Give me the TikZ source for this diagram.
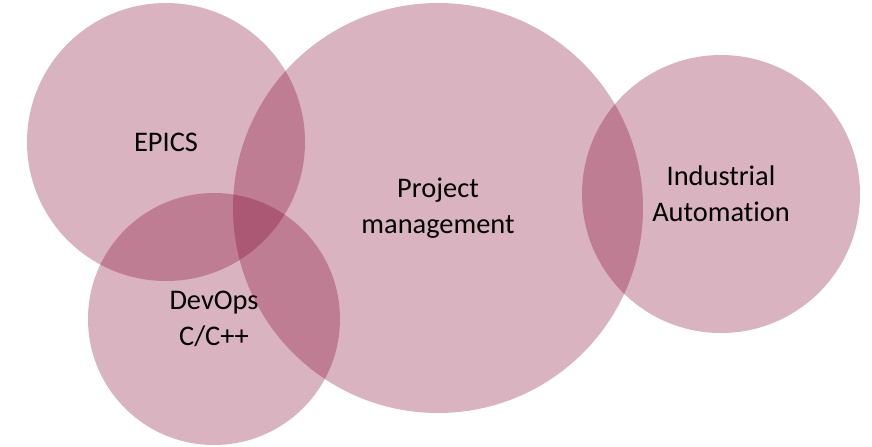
\documentclass[tikz,border=0pt]{standalone}
\usepackage{fontspec}
\setmainfont[Ligatures=NoCommon]{Carlito}
\usepackage{xcolor}
\usepackage{tikz}
\usetikzlibrary{positioning}
\definecolor{mauve}{RGB}{128,2,45}
\tikzset{
  venn/.style={
    circle, draw=none, fill=mauve, fill opacity=0.3, text opacity=1,
    minimum size=#1, inner sep=0pt, align=center,
    font=\fontsize{14.2}{18}\selectfont
  },
  venn/.default=139pt,
}

\begin{document}
\begin{tikzpicture}[x=0.5pt, y=-0.5pt]
  \useasboundingbox (0,0) rectangle (872,446);
  % Skill circles
  \node[venn=139pt] (epics) at (166,142) {EPICS};
  \node[venn=126pt] (devops) at (214,319) {DevOps\\C/C++};
  \node[venn=205pt] (pm) at (438,208) {Project\\management};
  \node[venn=139pt] (ia) at (721,194) {Industrial\\Automation};
\end{tikzpicture}
\end{document}
